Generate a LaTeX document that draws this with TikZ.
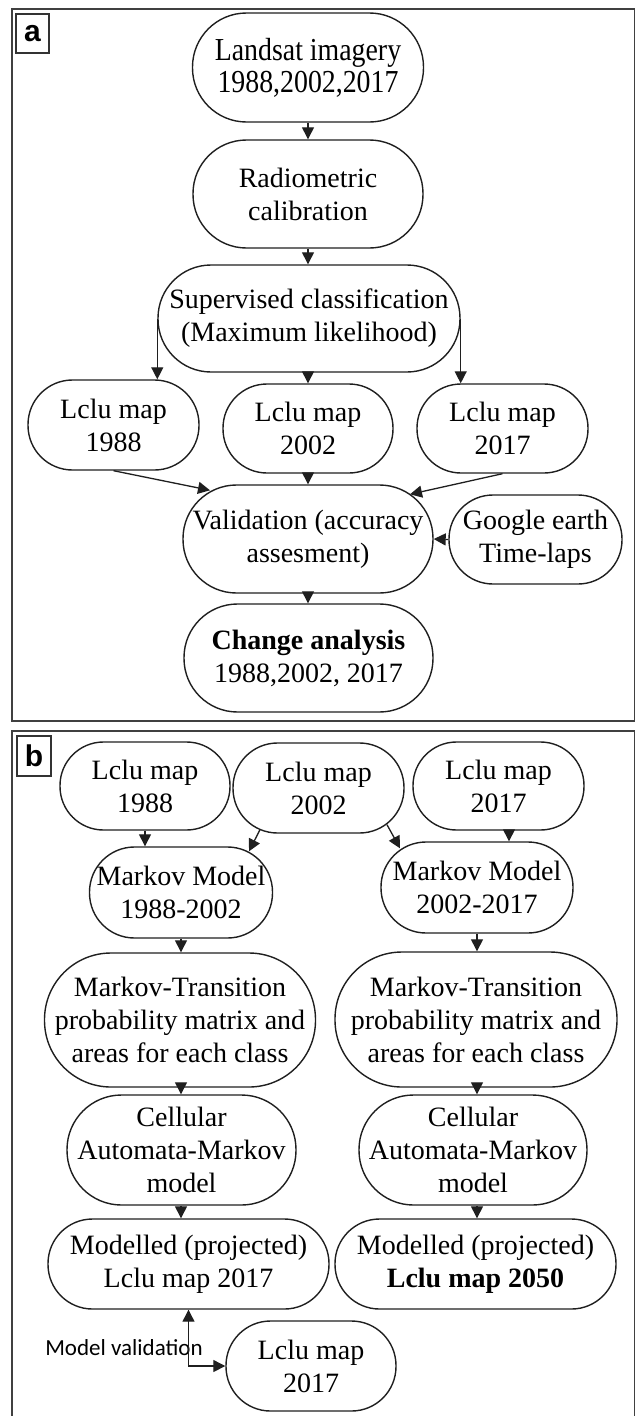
\documentclass[tikz,border=0pt]{standalone}
\usepackage{fontspec}
\setmainfont{Liberation Serif}
\newfontfamily\tallfont[FakeStretch=0.87]{Liberation Serif}
\newfontfamily\calibfont{Carlito}
\newfontfamily\labfont{Liberation Sans}
\usetikzlibrary{arrows.meta,calc}
\begin{document}
\begin{tikzpicture}[x=1pt,y=1pt,
  box/.style={draw=black!88, line width=1.4pt, inner sep=0pt, align=center,
    font=\fontsize{28}{33}\selectfont},
  arr/.style={line width=1.3pt, draw=black!88, -{Triangle[length=12pt,width=12pt]}},
  arrboth/.style={line width=1.3pt, draw=black!88, {Triangle[length=12pt,width=12pt]}-{Triangle[length=12pt,width=12pt]}},
  panel/.style={draw=black!75, line width=1.8pt},
  lab/.style={draw=black!80, line width=1.2pt, inner sep=0pt,
    font=\labfont\bfseries\fontsize{30}{30}\selectfont}
]
\useasboundingbox (0,0) rectangle (636,-1416);

% ---------- panel a ----------
\draw[panel] (12,-9) rectangle (634.5,-721);
\node[lab, minimum width=33, minimum height=39] (la) at (32.5,-33.5) {a};

\node[box, minimum width=231, minimum height=109, rounded corners=54, font=\tallfont\fontsize{32}{32}\selectfont] (landsat) at (308,-67.5) {Landsat imagery\\1988,2002,2017};
\node[box, minimum width=230, minimum height=108, rounded corners=53.5] (radio) at (308,-194) {Radiometric\\calibration};
\node[box, minimum width=302, minimum height=107, rounded corners=53] (superv) at (309,-318.5) {Supervised classification\\(Maximum likelihood)};
\node[box, minimum width=171, minimum height=90, rounded corners=44.5] (l88) at (113.5,-425) {Lclu map\\1988};
\node[box, minimum width=170, minimum height=89, rounded corners=44] (l02) at (308,-428.5) {Lclu map\\2002};
\node[box, minimum width=171, minimum height=89, rounded corners=44] (l17) at (502.5,-428.5) {Lclu map\\2017};
\node[box, minimum width=250, minimum height=108, rounded corners=53.5] (valid) at (308,-539) {Validation (accuracy\\assesment)};
\node[box, minimum width=173, minimum height=89, rounded corners=44] (google) at (535.5,-539.5) {Google earth\\Time-laps};
\node[box, minimum width=249, minimum height=108, rounded corners=53.5] (change) at (308.5,-658) {\textbf{Change analysis}\\1988,2002, 2017};

\draw[arr] (landsat.south) -- (landsat.south |- radio.north);
\draw[arr] (radio.south) -- (radio.south |- superv.north);
\draw[arr] (superv.west) -- (superv.west |- l88.north);
\draw[arr] (superv.east) -- (superv.east |- l17.north);
\draw[arr] (l02.north |- superv.south) -- (l02.north);
\draw[arr] (l88.south) -- ([xshift=-98pt,yshift=-6pt]valid.north);
\draw[arr] (l17.south) -- ([xshift=102pt,yshift=-10pt]valid.north);
\draw[arr] (l02.south) -- (l02.south |- valid.north);
\draw[arr] (google.west) -- (valid.east);
\draw[arr] (valid.south) -- (valid.south |- change.north);

% ---------- panel b ----------
\draw[panel] (12,-1417) -- (12,-731) -- (634.5,-731) -- (634.5,-1417);
\node[lab, minimum width=34, minimum height=40] (lb) at (34,-756) {b};

\node[box, minimum width=170, minimum height=88, rounded corners=43.5] (bl88) at (145,-786) {Lclu map\\1988};
\node[box, minimum width=171, minimum height=90, rounded corners=44.5] (bl02) at (318.5,-788) {Lclu map\\2002};
\node[box, minimum width=171, minimum height=88, rounded corners=43.5] (bl17) at (498.5,-786) {Lclu map\\2017};
\node[box, minimum width=183, minimum height=91, rounded corners=45] (m1) at (181,-892.5) {Markov Model\\1988-2002};
\node[box, minimum width=192, minimum height=91, rounded corners=45] (m2) at (477,-887.5) {Markov Model\\2002-2017};
\node[box, minimum width=271, minimum height=134, rounded corners=66.5] (mt1) at (180,-1020) {Markov-Transition\\probability matrix and\\areas for each class};
\node[box, minimum width=282, minimum height=135, rounded corners=67] (mt2) at (476,-1019.5) {Markov-Transition\\probability matrix and\\areas for each class};
\node[box, minimum width=229, minimum height=110, rounded corners=54.5] (ca1) at (181.5,-1150) {Cellular\\Automata-Markov\\model};
\node[box, minimum width=228, minimum height=110, rounded corners=54.5] (ca2) at (473,-1150) {Cellular\\Automata-Markov\\model};
\node[box, minimum width=281, minimum height=90, rounded corners=44.5] (mod1) at (188.5,-1264) {Modelled (projected)\\Lclu map 2017};
\node[box, minimum width=281, minimum height=90, rounded corners=44.5] (mod2) at (475.5,-1264) {Modelled (projected)\\\textbf{Lclu map 2050}};
\node[box, minimum width=170, minimum height=90, rounded corners=44.5] (lc17) at (311,-1366) {Lclu map\\2017};

\node[inner sep=0pt, font=\calibfont\fontsize{23}{23}\selectfont] (mvl) at (124,-1348) {Model validation};

\draw[arr] (bl88.south) -- (bl88.south |- m1.north);
\draw[arr] ([xshift=-58.5pt,yshift=4pt]bl02.south) -- ([xshift=68pt,yshift=-5pt]m1.north);
\draw[arr] ([xshift=68.5pt,yshift=9pt]bl02.south) -- ([xshift=-77pt,yshift=-7pt]m2.north);
\draw[arr] ([xshift=10.5pt]bl17.south) -- ([xshift=10.5pt]bl17.south |- m2.north);

\draw[arr] (m1.south) -- (m1.south |- mt1.north);
\draw[arr] (m1.south |- mt1.south) -- (m1.south |- ca1.north);
\draw[arr] (m1.south |- ca1.south) -- (m1.south |- mod1.north);

\draw[arr] (m2.south) -- (m2.south |- mt2.north);
\draw[arr] (m2.south |- mt2.south) -- (m2.south |- ca2.north);
\draw[arr] (m2.south |- ca2.south) -- (m2.south |- mod2.north);

\draw[arrboth] (mod1.south) |- (lc17.west);
\end{tikzpicture}
\end{document}
